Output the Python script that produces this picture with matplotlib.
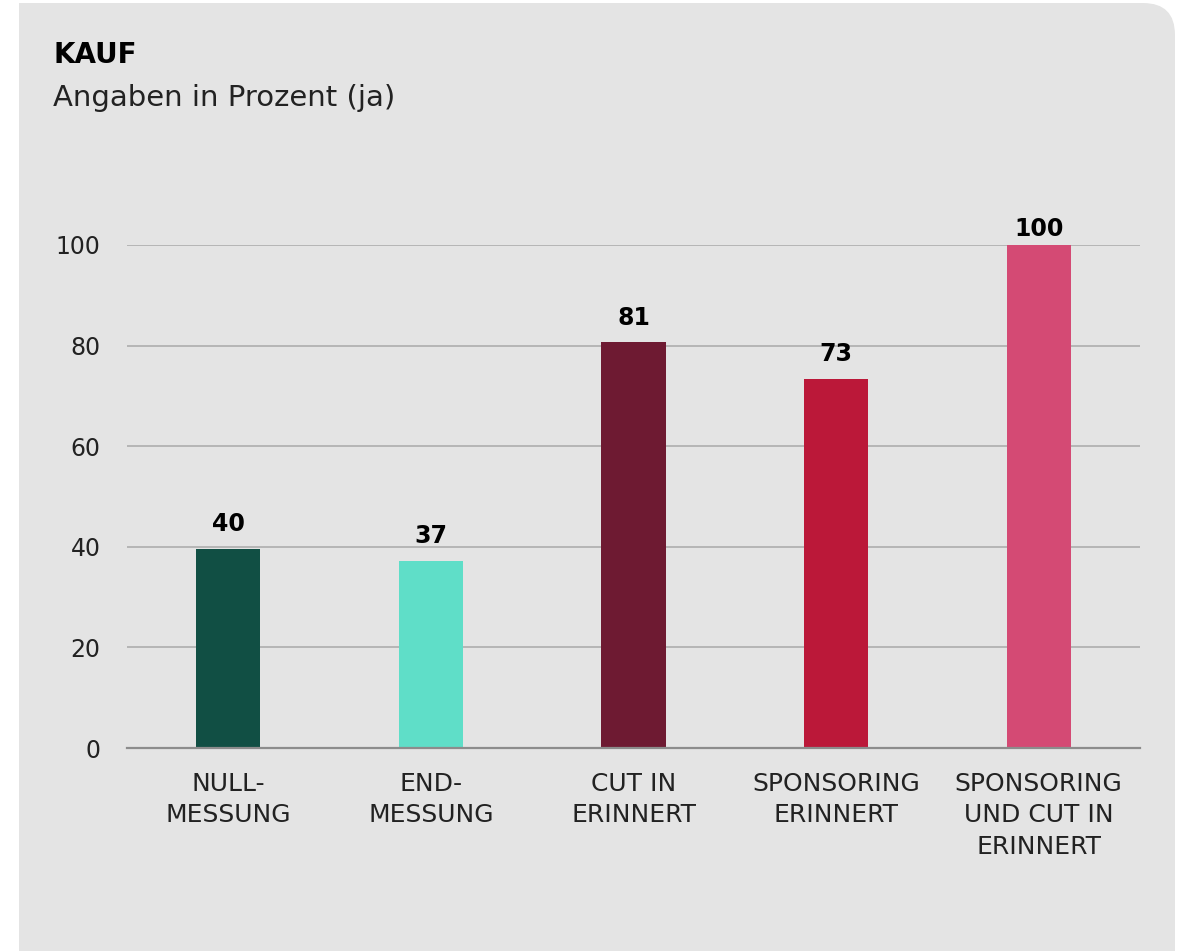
import matplotlib
matplotlib.use('Agg')
import matplotlib.pyplot as plt
from matplotlib.patches import FancyBboxPatch, Rectangle
from matplotlib.transforms import IdentityTransform

categories = ['NULL-\nMESSUNG', 'END-\nMESSUNG', 'CUT IN\nERINNERT',
              'SPONSORING\nERINNERT', 'SPONSORING\nUND CUT IN\nERINNERT']
values = [39.6, 37.2, 80.7, 73.4, 100.0]
labels = ['40', '37', '81', '73', '100']
colors = ['#114f44', '#5fdec8', '#6e1a32', '#bb1839', '#d44a74']
yticks = [0, 20, 40, 60, 80, 100]

plt.rcParams['font.family'] = ['DejaVu Sans']

W, H = 1184, 951
fig = plt.figure(figsize=(W / 100, H / 100), dpi=100)
fig.patch.set_facecolor('white')

# grey panel, only the top-right corner is rounded
bg = '#e4e4e4'
tr = IdentityTransform()
fig.patches.append(FancyBboxPatch((19, -40), 1156, H - 3 + 40,
                                  boxstyle='round,pad=0,rounding_size=32',
                                  transform=tr, facecolor=bg, edgecolor='none',
                                  figure=fig, zorder=-5))
fig.patches.append(Rectangle((19, -40), 600, H - 3 + 40, transform=tr,
                             facecolor=bg, edgecolor='none', figure=fig,
                             zorder=-5))
fig.patches.append(Rectangle((19, -40), 1156, 800, transform=tr,
                             facecolor=bg, edgecolor='none', figure=fig,
                             zorder=-5))

fig.text(53 / W, 1 - 55 / H, 'KAUF', fontsize=20, fontweight='bold',
         va='center', ha='left', color='black')
fig.text(53 / W, 1 - 98 / H, 'Angaben in Prozent (ja)', fontsize=21,
         va='center', ha='left', color='#222222')

ax = fig.add_axes([127 / W, 1 - 748 / H, (1140 - 127) / W, (748 - 245) / H])
ax.set_facecolor('none')
x = range(len(categories))
ax.bar(x, values, width=0.316, color=colors, zorder=3)
for i, v in enumerate(values):
    off = 3 if v >= 100 else 9   # top label sits closer, as in the original
    ax.annotate(labels[i], (i, v), xytext=(0, off), textcoords='offset points',
                ha='center', va='bottom', fontsize=17, fontweight='bold',
                color='black', annotation_clip=False)

ax.set_xlim(-0.5, 4.5)
ax.set_ylim(0, 100)
ax.set_yticks(yticks)
ax.set_xticks(list(x))
ax.set_xticklabels(categories, fontsize=18, linespacing=1.4, color='#222222',
                   va='top')
ax.tick_params(axis='y', length=0, pad=19, labelsize=17, labelcolor='#222222')
ax.tick_params(axis='x', length=0, pad=17)
ax.grid(axis='y', color='#b5b5b5', linewidth=1.4, zorder=0)
ax.set_axisbelow(True)
for s in ['top', 'right', 'left']:
    ax.spines[s].set_visible(False)
ax.spines['bottom'].set_color('#8c8c8c')
ax.spines['bottom'].set_linewidth(1.6)
ax.spines['bottom'].set_zorder(4)

fig.savefig('out.png', dpi=100, facecolor=fig.get_facecolor())
